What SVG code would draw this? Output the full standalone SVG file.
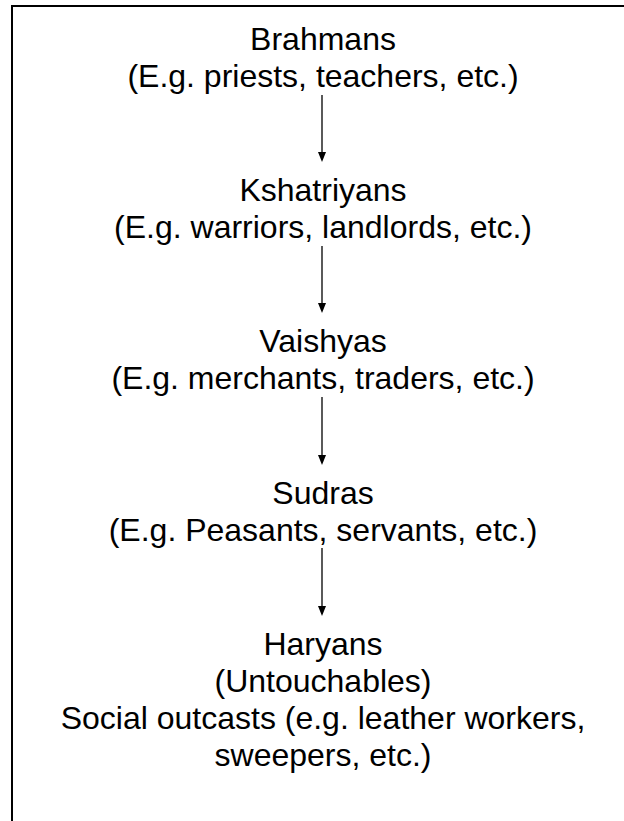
<svg xmlns="http://www.w3.org/2000/svg" width="624" height="821" viewBox="0 0 624 821">
<defs>
<style>
text{font-family:"Liberation Sans",Arial,sans-serif;font-size:32px;fill:#000;text-anchor:middle}
.conn line{stroke:#000;stroke-width:1.3}
</style>
<marker id="ah" markerWidth="8" markerHeight="10" refX="4" refY="10" orient="auto-start-reverse" markerUnits="userSpaceOnUse" viewBox="0 0 8 10">
<path d="M0,0 L8,0 L4,10 Z" fill="#000" transform="rotate(0)"/>
</marker>
</defs>
<rect width="624" height="821" fill="#fff"/>
<g id="frame">
<path d="M12,821 L12,6 L624,6" fill="none" stroke="#000" stroke-width="2"/>
</g>
<g id="brahmans">
<text x="323" y="50">Brahmans</text>
<text x="323" y="87">(E.g. priests, teachers, etc.)</text>
</g>
<g id="kshatriyans">
<text x="323" y="201">Kshatriyans</text>
<text x="323" y="238">(E.g. warriors, landlords, etc.)</text>
</g>
<g id="vaishyas">
<text x="323" y="352">Vaishyas</text>
<text x="323" y="389">(E.g. merchants, traders, etc.)</text>
</g>
<g id="sudras">
<text x="323" y="504">Sudras</text>
<text x="323" y="541">(E.g. Peasants, servants, etc.)</text>
</g>
<g id="haryans">
<text x="323" y="655">Haryans</text>
<text x="323" y="692">(Untouchables)</text>
<text x="323" y="729">Social outcasts (e.g. leather workers,</text>
<text x="323" y="766">sweepers, etc.)</text>
</g>
<g id="connectors" class="conn">
<line x1="322" y1="95" x2="322" y2="153"/>
<path d="M318,152 L326,152 L322,162 Z"/>
<line x1="322" y1="246" x2="322" y2="304"/>
<path d="M318,303 L326,303 L322,313 Z"/>
<line x1="322" y1="397" x2="322" y2="456"/>
<path d="M318,455 L326,455 L322,465 Z"/>
<line x1="322" y1="548" x2="322" y2="607"/>
<path d="M318,606 L326,606 L322,616 Z"/>
</g>
</svg>
